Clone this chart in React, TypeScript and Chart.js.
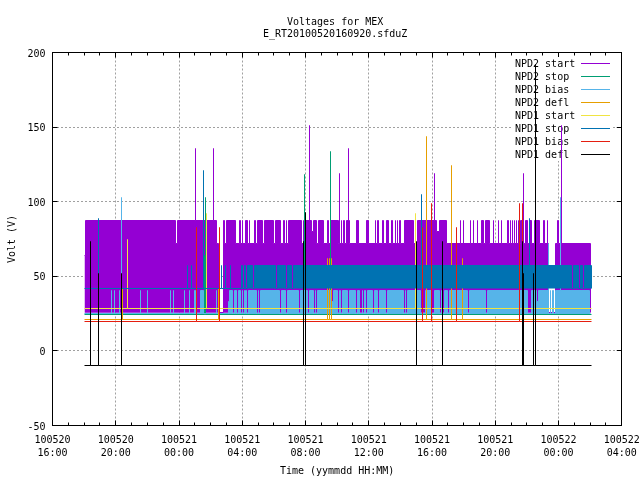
import React, { useEffect, useRef } from "react";
import { Chart, registerables } from "chart.js";

Chart.register(...registerables);

type P = [number, number];

const titleLines = ["Voltages for MEX", "E_RT20100520160920.sfduZ"];
const xTitle = "Time (yymmdd HH:MM)";
const yTitle = "Volt (V)";
const tickDates = ["100520", "100520", "100521", "100521", "100521", "100521", "100521", "100521", "100522", "100522"];
const tickTimes = ["16:00", "20:00", "00:00", "04:00", "08:00", "12:00", "16:00", "20:00", "00:00", "04:00"];

// [hours since 100520 16:00, volts]; each value holds until the next sample
const npd2Start: P[] = [
  [2.02, 64], [2.09, 87.5], [7.78, 72], [7.91, 87.5], [9.04, 135.5], [9.04, 87.5], [10.18, 135.5], [10.18, 87.5],
  [10.37, 72], [10.5, 25.5], [10.82, 87.5], [10.88, 72], [11.01, 87.5], [11.57, 72], [11.83, 87.5], [11.89, 72],
  [12.02, 87.5], [12.02, 72], [12.21, 87.5], [12.33, 72], [12.46, 87.5], [12.46, 72], [12.78, 87.5], [12.84, 72],
  [12.97, 87.5], [13.28, 72], [13.41, 87.5], [13.98, 72], [14.1, 87.5], [14.42, 72], [14.61, 87.5], [14.67, 72],
  [14.8, 87.5], [14.8, 72], [14.93, 87.5], [15.75, 72], [15.88, 87.5], [15.88, 72], [16.0, 87.5], [16.26, 151],
  [16.26, 87.5], [16.38, 80], [16.51, 87.5], [16.7, 72], [16.82, 87.5], [17.14, 72], [17.39, 87.5], [17.46, 72],
  [17.58, 87.5], [18.09, 72], [18.15, 119], [18.15, 72], [18.28, 87.5], [18.28, 72], [18.41, 87.5], [18.47, 72],
  [18.6, 87.5], [18.72, 135.5], [18.72, 87.5], [18.79, 72], [19.23, 87.5], [19.35, 72], [19.86, 87.5], [19.99, 72],
  [20.43, 87.5], [20.43, 72], [20.56, 87.5], [20.62, 72], [20.87, 87.5], [20.94, 72], [21.13, 87.5], [21.25, 72],
  [21.44, 87.5], [21.5, 72], [21.69, 87.5], [21.69, 72], [21.82, 87.5], [21.82, 72], [21.95, 87.5], [22.01, 72],
  [22.26, 87.5], [22.83, 72], [23.09, 87.5], [24.16, 119], [24.16, 87.5], [24.29, 80], [24.48, 87.5], [24.92, 72],
  [25.81, 87.5], [25.81, 72], [26.0, 87.5], [26.0, 72], [26.44, 87.5], [26.44, 72], [26.63, 87.5], [26.63, 72],
  [26.88, 87.5], [26.88, 72], [27.13, 87.5], [27.26, 72], [27.39, 87.5], [27.64, 72], [27.89, 87.5], [27.89, 72],
  [28.21, 87.5], [28.21, 72], [28.4, 87.5], [28.4, 72], [28.78, 87.5], [28.84, 72], [28.97, 87.5], [28.97, 72],
  [29.1, 87.5], [29.1, 72], [29.22, 87.5], [29.22, 72], [29.35, 87.5], [29.35, 72], [29.47, 87.5], [29.47, 72],
  [29.6, 87.5], [29.79, 119], [29.79, 72], [29.92, 87.5], [30.04, 72], [30.17, 87.5], [30.3, 72], [30.49, 87.5],
  [30.8, 72], [31.06, 87.5], [31.12, 72], [31.31, 87.5], [31.31, 72], [31.37, 25.5], [31.81, 72], [31.94, 87.5],
  [32.0, 72], [32.19, 151], [32.19, 72], [34.03, 25.5],
];
const npd2Stop: P[] = [
  [2.02, 24.1], [9.61, 64], [9.61, 24.1], [9.68, 102.5], [9.68, 24.1], [15.94, 118], [15.94, 24.1],
  [17.58, 133.5], [17.58, 24.1], [34.09, 24.1],
];
const npd2Bias: P[] = [
  [2.02, 24.8], [3.73, 40.5], [3.73, 24.8], [3.92, 40.5], [3.92, 24.8], [4.24, 40.5], [4.24, 24.8], [4.36, 103],
  [4.36, 24.8], [5.57, 40.5], [5.57, 24.8], [6.01, 40.5], [6.01, 24.8], [7.46, 40.5], [7.46, 24.8], [7.65, 40.5],
  [7.65, 24.8], [8.35, 40.5], [8.35, 24.8], [8.67, 40.5], [8.67, 24.8], [8.98, 40.5], [9.04, 24.8], [9.36, 40.5],
  [9.55, 24.8], [10.37, 40.5], [10.37, 24.8], [11.13, 33], [11.2, 40.5], [11.39, 24.8], [11.51, 40.5], [11.64, 24.8],
  [11.76, 40.5], [11.89, 24.8], [12.02, 40.5], [12.02, 24.8], [12.14, 40.5], [12.21, 33], [12.27, 40.5], [12.27, 24.8],
  [12.4, 40.5], [12.9, 24.8], [13.03, 40.5], [13.03, 24.8], [13.16, 40.5], [14.36, 24.8], [14.48, 40.5], [14.74, 24.8],
  [14.86, 40.5], [15.56, 24.8], [15.69, 40.5], [16.13, 24.8], [16.26, 40.5], [16.51, 24.8], [16.63, 40.5], [16.63, 24.8],
  [16.76, 40.5], [17.65, 33], [17.77, 40.5], [18.03, 24.8], [18.15, 40.5], [18.22, 24.8], [18.34, 40.5], [18.66, 24.8],
  [18.79, 40.5], [19.16, 24.8], [19.29, 40.5], [19.42, 24.8], [19.61, 40.5], [19.61, 24.8], [19.73, 40.5], [19.8, 24.8],
  [19.92, 40.5], [20.24, 24.8], [20.37, 40.5], [20.56, 24.8], [20.68, 40.5], [21.06, 24.8], [21.19, 40.5], [22.2, 24.8],
  [22.33, 40.5], [22.33, 24.8], [22.45, 40.5], [23.28, 24.8], [23.4, 40.5], [23.4, 24.8], [23.59, 40.5], [23.97, 24.8],
  [24.16, 40.5], [24.48, 24.8], [24.6, 40.5], [24.67, 24.8], [24.79, 40.5], [24.98, 24.8], [25.11, 40.5], [26.25, 24.8],
  [26.38, 40.5], [27.39, 24.8], [27.51, 40.5], [30.04, 24.8], [30.3, 40.5], [30.61, 33], [30.74, 40.5], [31.37, 72],
  [31.37, 24.8], [31.5, 40.5], [31.5, 24.8], [31.63, 40.5], [31.69, 24.8], [31.81, 40.5], [32.13, 103], [32.13, 40.5],
  [33.97, 24.8], [34.03, 24.8],
];
const npd2Defl: P[] = [
  [2.02, 20.8], [4.43, 41.8], [4.43, 20.8], [10.5, 41.8], [10.5, 20.8], [17.39, 62], [17.39, 20.8], [17.52, 62],
  [17.52, 20.8], [17.65, 62], [17.65, 20.8], [23.66, 144], [23.66, 20.8], [25.24, 124], [25.24, 20.8], [25.93, 62],
  [25.93, 20.8], [34.09, 20.8],
];
const npd1Start: P[] = [
  [2.02, 28.15], [4.74, 75], [4.74, 28.15], [9.74, 92], [9.74, 28.15], [22.96, 92], [22.96, 28.15], [34.09, 28.15],
];
const npd1Stop: P[] = [
  [2.02, 41.8], [2.91, 89], [2.91, 41.8], [8.54, 57.3], [8.54, 41.8], [8.79, 57.3], [8.79, 41.8], [9.55, 120.7],
  [9.55, 41.8], [10.69, 57.3], [10.69, 41.8], [10.94, 57.3], [10.94, 41.8], [11.26, 57.3], [11.26, 41.8], [11.95, 57.3],
  [12.02, 41.8], [12.14, 57.3], [12.21, 41.8], [12.33, 57.3], [12.65, 41.8], [12.78, 57.3], [14.1, 41.8], [14.23, 57.3],
  [14.74, 41.8], [14.86, 57.3], [15.12, 41.8], [15.24, 57.3], [23.34, 104.6], [23.34, 57.3], [30.17, 89], [30.17, 57.3],
  [32.83, 41.8], [32.95, 57.3], [33.27, 41.8], [33.4, 57.3], [33.52, 41.8], [33.65, 57.3], [34.09, 41.8],
];
const npd1Bias: P[] = [
  [2.02, 19.4], [9.11, 83], [9.11, 19.4], [10.56, 83], [10.56, 19.4], [23.4, 83], [23.4, 19.4], [23.97, 98.6],
  [23.97, 19.4], [25.55, 83], [25.55, 19.4], [29.54, 98.6], [29.54, 19.4], [29.73, 98.6], [29.73, 19.4], [34.09, 19.4],
];
const npd1Defl: P[] = [
  [2.02, -10], [2.4, 73], [2.4, -10], [2.91, 52], [2.91, -10], [4.36, 52], [4.36, -10], [15.88, 73], [15.88, -10],
  [16.0, 93], [16.0, -10], [23.02, 73], [23.02, -10], [24.67, 73], [24.67, -10], [29.73, 73], [29.73, -10],
  [29.79, 52], [29.79, -10], [30.42, 52], [30.42, -10], [30.55, 192], [30.55, -10], [34.09, -10],
];

const seriesLabels = ["NPD2 start", "NPD2 stop", "NPD2 bias", "NPD2 defl", "NPD1 start", "NPD1 stop", "NPD1 bias", "NPD1 defl"];
const seriesData = [npd2Start, npd2Stop, npd2Bias, npd2Defl, npd1Start, npd1Stop, npd1Bias, npd1Defl];
const seriesColors = ["#9400d3", "#009e73", "#56b4e9", "#e69f00", "#f0e442", "#0072b2", "#e51e10", "#000000"];
const seriesFillTo: (number | null)[] = [25.5, null, 24.8, null, null, 41.8, null, null];

const FONT = '"DejaVu Sans Mono", monospace';
const snap = (v: number) => Math.round(v - 0.5) + 0.5;

const framePlugin = {
  id: "frame",
  afterLayout(chart: any) {
    // the two-line heading sits slightly left of the plot centre
    if (chart.titleBlock) chart.titleBlock.left -= 4;
  },
  afterDatasetsUpdate(chart: any) {
    // keep the one-pixel traces on whole device pixels
    chart.getSortedVisibleDatasetMetas().forEach((meta: any) => {
      meta.data.forEach((pt: any) => {
        pt.x = snap(pt.x);
        pt.y = snap(pt.y);
      });
    });
  },
  beforeDatasetsDraw(chart: any) {
    const { ctx, chartArea: a, scales } = chart;
    ctx.save();
    ctx.strokeStyle = "#000";
    ctx.lineWidth = 1;
    ctx.beginPath();
    for (let h = 0; h <= 36; h += 1) {
      const x = snap(scales.x.getPixelForValue(h));
      const len = h % 4 === 0 ? 5 : 3;
      ctx.moveTo(x, a.bottom);
      ctx.lineTo(x, a.bottom - len);
      ctx.moveTo(x, a.top);
      ctx.lineTo(x, a.top + len);
    }
    for (let v = -50; v <= 200; v += 50) {
      const y = snap(scales.y.getPixelForValue(v));
      ctx.moveTo(a.left, y);
      ctx.lineTo(a.left + 5, y);
      ctx.moveTo(a.right, y);
      ctx.lineTo(a.right - 5, y);
    }
    ctx.stroke();
    ctx.strokeRect(snap(a.left), snap(a.top), snap(a.right) - snap(a.left), snap(a.bottom) - snap(a.top));

    // key: opaque box, labels on the left, line samples on the right
    ctx.fillStyle = "#fff";
    ctx.fillRect(513, 57, 99, 104);
    ctx.font = `10px ${FONT}`;
    ctx.textBaseline = "middle";
    ctx.textAlign = "left";
    chart.data.datasets.forEach((d: any, i: number) => {
      const y = 63.5 + i * 13;
      ctx.fillStyle = "#000";
      ctx.fillText(d.label, 515, y + 1);
      ctx.strokeStyle = d.borderColor;
      ctx.beginPath();
      ctx.moveTo(581, y);
      ctx.lineTo(610, y);
      ctx.stroke();
    });
    ctx.restore();
  },
};

export default function App() {
  const ref = useRef<HTMLCanvasElement>(null);
  useEffect(() => {
    document.body.style.margin = "0";
    const chart = new Chart(ref.current!, {
      type: "line",
      data: {
        datasets: seriesData.map((pts, i) => ({
          label: seriesLabels[i],
          data: pts.map(([x, y]) => ({ x, y })),
          borderColor: seriesColors[i],
          backgroundColor: seriesColors[i],
          borderWidth: 1,
          pointRadius: 0,
          stepped: true,
          tension: 0,
          fill: seriesFillTo[i] === null ? false : { value: seriesFillTo[i] },
          order: seriesData.length - i,
        })),
      } as any,
      options: {
        responsive: false,
        animation: false,
        devicePixelRatio: 1,
        layout: { padding: { left: 0.5, right: 18.25, top: 0, bottom: 0 } },
        plugins: {
          legend: { display: false },
          tooltip: { enabled: false },
          title: {
            display: true,
            text: titleLines,
            fullSize: false,
            color: "#000",
            font: { family: FONT, size: 10, weight: "normal", lineHeight: 1.2 },
            padding: { top: 16, bottom: 12.5 },
          },
        },
        scales: {
          x: {
            type: "linear",
            min: 0,
            max: 36,
            afterFit: (s: any) => {
              s.height = 54.5;
              s.paddingLeft = 0;
              s.paddingRight = 0;
            },
            afterBuildTicks: (s: any) => {
              s.ticks = tickDates.map((_, i) => ({ value: i * 4 }));
            },
            grid: { color: "#a0a0a0", drawTicks: false },
            border: { display: false, dash: [2, 2] },
            ticks: {
              autoSkip: false,
              maxRotation: 0,
              color: "#000",
              padding: 8,
              font: { family: FONT, size: 10, lineHeight: 1.3 },
              callback: (_v: any, i: number) => [tickDates[i], tickTimes[i]],
            },
            title: {
              display: true,
              text: xTitle,
              color: "#000",
              font: { family: FONT, size: 10, lineHeight: 1.2 },
              padding: { top: 0, bottom: 3 },
            },
          },
          y: {
            type: "linear",
            min: -50,
            max: 200,
            afterFit: (s: any) => {
              s.width = 52;
              s.paddingTop = 0;
              s.paddingBottom = 0;
            },
            grid: { color: "#a0a0a0", drawTicks: false },
            border: { display: false, dash: [2, 2] },
            ticks: {
              stepSize: 50,
              color: "#000",
              padding: 7,
              labelOffset: 1.5,
              font: { family: FONT, size: 10 },
            },
            title: {
              display: true,
              text: yTitle,
              color: "#000",
              font: { family: FONT, size: 10, lineHeight: 1.2 },
              padding: { top: 6, bottom: 0 },
            },
          },
        },
      } as any,
      plugins: [framePlugin],
    });
    return () => chart.destroy();
  }, []);
  return <canvas ref={ref} width={640} height={480} style={{ display: "block" }} />;
}
